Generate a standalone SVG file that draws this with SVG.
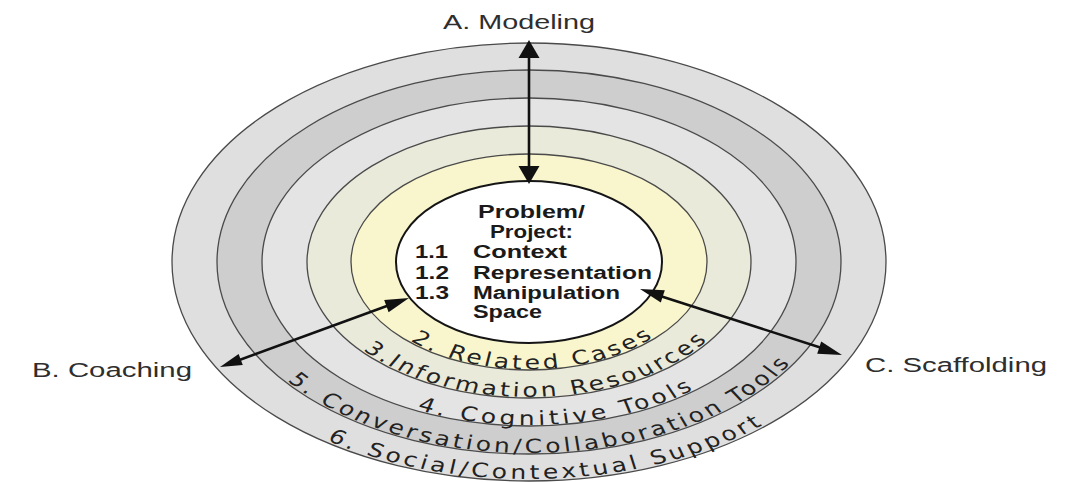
<svg xmlns="http://www.w3.org/2000/svg" width="1069" height="482" viewBox="0 0 1069 482">
  <style>
    .ring { stroke: #4a4a4a; stroke-width: 1.3; }
    .core { stroke: #151515; stroke-width: 2; fill: #ffffff; }
    .band { font-family: "DejaVu Sans", "Verdana", sans-serif; font-size: 19.5px; fill: #222222; }
    .core-t { font-family: "Liberation Sans", Arial, sans-serif; font-weight: bold; font-size: 18px; fill: #1a1a1a; }
    .lbl { font-family: "Liberation Sans", Arial, sans-serif; font-size: 20px; fill: #2e2e2e; }
    .conn { stroke: #111111; stroke-width: 2.6; fill: none; }
    .head { fill: #111111; }
  </style>
  <defs>
    <path id="p2" d="M -92.9 78.8 A 136.7 107 0 0 0 118.4 53.5"/>
    <path id="p3" d="M -129.7 88.0 A 171.1 135 0 0 0 160.8 46.2"/>
    <path id="p4" d="M -87.5 147.6 A 206.25 163 0 0 0 169.0 93.5"/>
    <path id="p5" d="M -188.9 118.9 A 241.4 191 0 0 0 233.2 49.4"/>
    <path id="p6" d="M -157.9 178.2 A 276.6 217 0 0 0 239.5 108.5"/>
  </defs>
  <rect width="1069" height="482" fill="#ffffff"/>

  <g id="ring6-social">
    <ellipse class="ring" cx="529" cy="262" rx="357" ry="219" fill="#dfdfdf"/>
  </g>
  <g id="ring5-conversation">
    <ellipse class="ring" cx="529" cy="262" rx="312" ry="192" fill="#cecece"/>
  </g>
  <g id="ring4-cognitive">
    <ellipse class="ring" cx="529" cy="262" rx="267" ry="164" fill="#e4e4e4"/>
  </g>
  <g id="ring3-information">
    <ellipse class="ring" cx="529" cy="262" rx="222" ry="136" fill="#eaeada"/>
  </g>
  <g id="ring2-related">
    <ellipse class="ring" cx="529" cy="262" rx="178" ry="108" fill="#f9f6cd"/>
  </g>
  <g id="core-problem">
    <ellipse class="core" cx="529" cy="262" rx="133" ry="81"/>
    <text class="core-t" x="478" y="218" textLength="107" lengthAdjust="spacingAndGlyphs">Problem/</text>
    <text class="core-t" x="490" y="238" textLength="83" lengthAdjust="spacingAndGlyphs">Project:</text>
    <text class="core-t" x="415" y="258" textLength="33" lengthAdjust="spacingAndGlyphs">1.1</text>
    <text class="core-t" x="473" y="258" textLength="94" lengthAdjust="spacingAndGlyphs">Context</text>
    <text class="core-t" x="415" y="279" textLength="34" lengthAdjust="spacingAndGlyphs">1.2</text>
    <text class="core-t" x="473" y="279" textLength="179" lengthAdjust="spacingAndGlyphs">Representation</text>
    <text class="core-t" x="415" y="299" textLength="34" lengthAdjust="spacingAndGlyphs">1.3</text>
    <text class="core-t" x="473" y="299" textLength="147" lengthAdjust="spacingAndGlyphs">Manipulation</text>
    <text class="core-t" x="473" y="318" textLength="69" lengthAdjust="spacingAndGlyphs">Space</text>
  </g>

  <g id="band-labels" transform="translate(529 262) scale(1.28 1)">
    <text class="band"><textPath href="#p2" textLength="202" lengthAdjust="spacing">2. Related Cases</textPath></text>
    <text class="band"><textPath href="#p3" textLength="295" lengthAdjust="spacing">3.Information Resources</textPath></text>
    <text class="band"><textPath href="#p4" textLength="224" lengthAdjust="spacing">4. Cognitive Tools</textPath></text>
    <text class="band"><textPath href="#p5" textLength="437" lengthAdjust="spacing">5. Conversation/Collaboration Tools</textPath></text>
    <text class="band"><textPath href="#p6" textLength="357" lengthAdjust="spacing">6. Social/Contextual Support</textPath></text>
  </g>

  <g id="label-modeling">
    <text class="lbl" x="443" y="29" textLength="152" lengthAdjust="spacingAndGlyphs">A. Modeling</text>
  </g>
  <g id="label-coaching">
    <text class="lbl" x="32" y="377" textLength="160" lengthAdjust="spacingAndGlyphs">B. Coaching</text>
  </g>
  <g id="label-scaffolding">
    <text class="lbl" x="865" y="372" textLength="182" lengthAdjust="spacingAndGlyphs">C. Scaffolding</text>
  </g>

  <g id="connectors">
    <line class="conn" x1="529" y1="52" x2="529" y2="172"/>
    <polygon class="head" points="529,40 518.5,58 539.5,58"/>
    <polygon class="head" points="529,184 518.5,166 539.5,166"/>

    <line class="conn" x1="234" y1="362" x2="395" y2="303"/>
    <polygon class="head" points="220,367 242.8,365.1 238.6,353.9"/>
    <polygon class="head" points="409,298 388.6,312.3 384.2,300.1"/>

    <line class="conn" x1="654" y1="294" x2="828" y2="350"/>
    <polygon class="head" points="842,355 817.2,353.7 821.2,341.4"/>
    <polygon class="head" points="640,289 660.8,302.6 664.8,290.3"/>
  </g>
</svg>
